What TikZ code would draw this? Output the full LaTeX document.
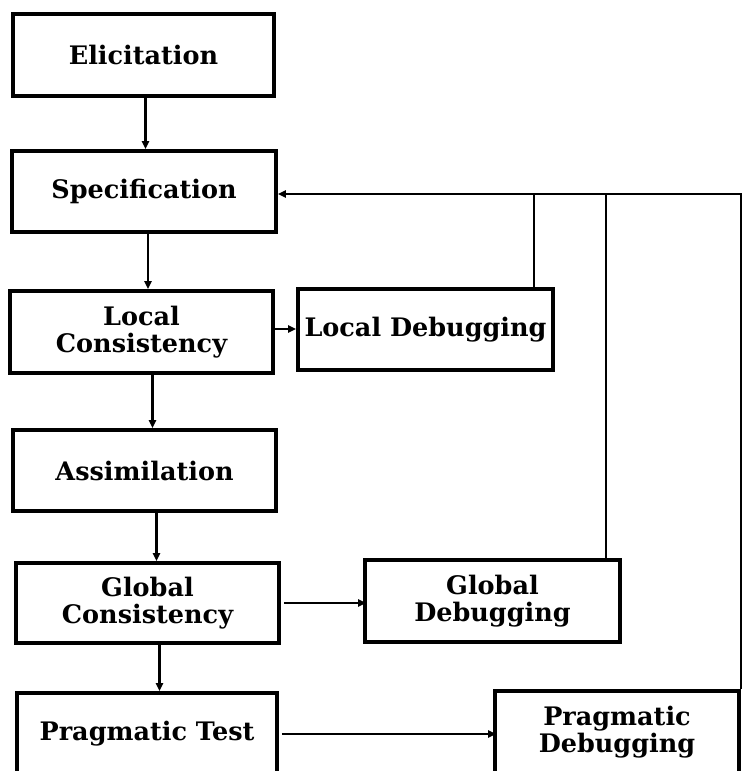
\documentclass[tikz,border=0pt]{standalone}
\usepackage{fontspec}
\setmainfont{DejaVu Serif}
\usetikzlibrary{arrows.meta}
\begin{document}
\begin{tikzpicture}[x=1pt,y=-1pt,
  box/.style={draw, line width=3.6pt, align=center, inner sep=0pt,
    font=\bfseries\fontsize{25.5}{27}\selectfont},
  link/.style={line width=2.2pt},
  arr/.style={link, -{Triangle[length=8pt,width=7pt]}}]
\useasboundingbox (0,0) rectangle (742,771);
\begin{scope}
\clip (0,0) rectangle (742,771);
% main chain of stages
\node[box, minimum width=261pt, minimum height=82pt] (elic)   at (143.5,55)  {Elicitation};
\node[box, minimum width=264pt, minimum height=81pt] (spec)   at (144,191.5) {Specification};
\node[box, minimum width=263pt, minimum height=82pt] (lcons)  at (141.5,332) {Local\\Consistency};
\node[box, minimum width=263pt, minimum height=81pt] (assim)  at (144.5,470.5) {Assimilation};
\node[box, minimum width=263pt, minimum height=80pt] (gcons)  at (147.5,603) {Global\\Consistency};
\node[box, minimum width=260pt, minimum height=82pt] (ptest)  at (147,734)   {Pragmatic Test};
% debugging stages
\node[box, minimum width=255pt, minimum height=81pt] (ldebug) at (425.5,329.5) {Local Debugging};
\node[box, minimum width=255pt, minimum height=82pt] (gdebug) at (492.5,601) {Global\\Debugging};
\node[box, minimum width=244pt, minimum height=82pt] (pdebug) at (617,732)   {Pragmatic\\Debugging};

% downward flow
\draw[arr] ([xshift=2pt]elic.south)  -- ([xshift=2pt]elic.south |- spec.north);
\draw[arr] ([xshift=4pt]spec.south)  -- ([xshift=4pt]spec.south |- lcons.north);
\draw[arr] ([xshift=11pt]lcons.south) -- ([xshift=11pt]lcons.south |- assim.north);
\draw[arr] ([xshift=12pt]assim.south) -- ([xshift=12pt]assim.south |- gcons.north);
\draw[arr] ([xshift=12pt]gcons.south) -- ([xshift=12pt]gcons.south |- ptest.north);

% to the debugging stages
\draw[arr] ([yshift=3pt]lcons.east) -- ([yshift=3pt]lcons.east -| ldebug.west);
\draw[arr] ([xshift=3pt]gcons.east) -- ([xshift=3pt]gcons.east -| gdebug.west);
\draw[arr] ([xshift=3pt]ptest.east) -- ([xshift=3pt]ptest.east -| pdebug.west);

% feedback to the specification
\coordinate (ret) at ([yshift=-2.5pt]spec.east);
\draw[arr] (pdebug.north east) -- (pdebug.north east |- ret) -- (ret);
\draw[link] ([xshift=-21pt]ldebug.north east) -- ([xshift=-21pt]ldebug.north east |- ret);
\draw[link] ([xshift=-16pt]gdebug.north east) -- ([xshift=-16pt]gdebug.north east |- ret);
\end{scope}
\end{tikzpicture}
\end{document}
